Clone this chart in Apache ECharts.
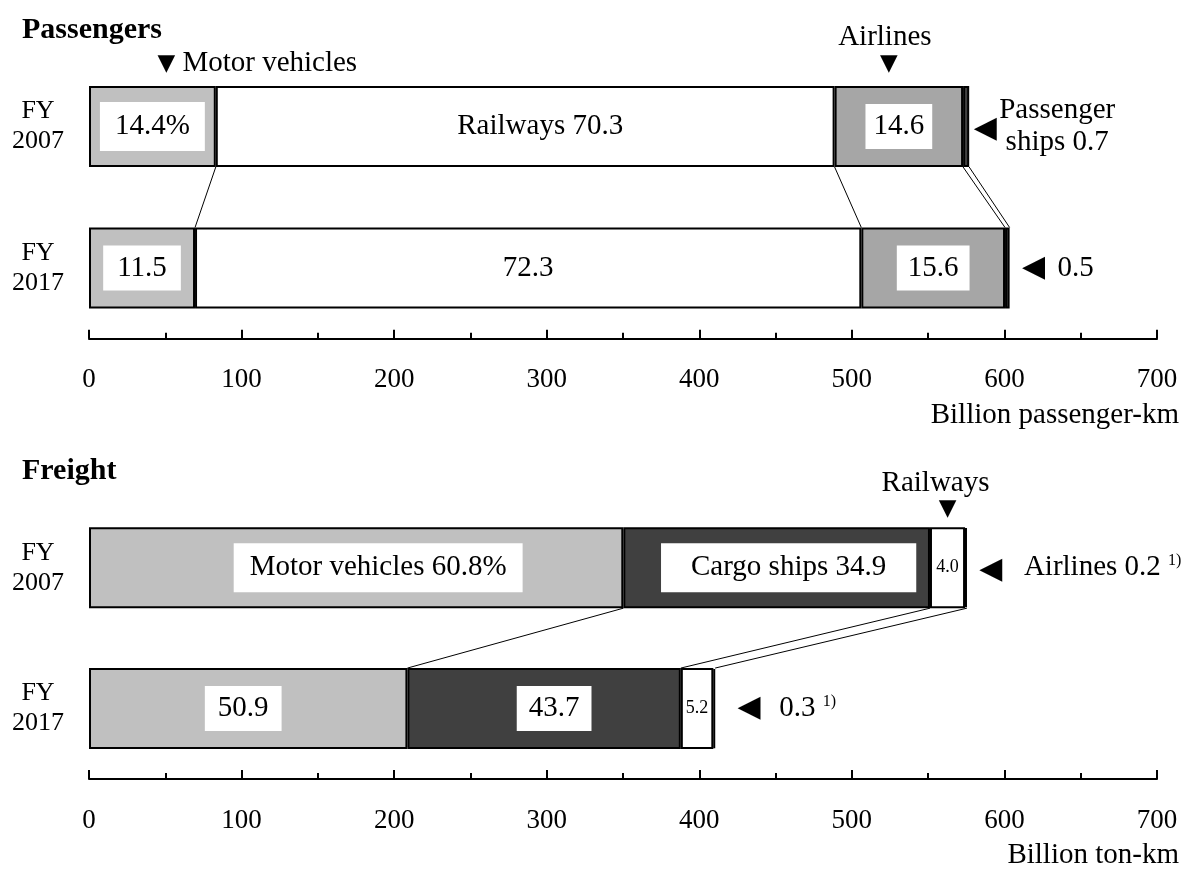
<!DOCTYPE html>
<html>
<head>
<meta charset="utf-8">
<script src="https://cdn.jsdelivr.net/npm/echarts@6/dist/echarts.min.js"></script>
<style>
  html, body { margin: 0; padding: 0; background: #fff; }
  #chart { width: 1189px; height: 870px; }
</style>
</head>
<body>
<div id="chart"></div>
<script>
const years = ['FY\n2007', 'FY\n2017']

// passengers, billion passenger-km
const paxMotor = [83.1, 69.5]
const paxRail = [405.6, 436.7]
const paxAir = [84.2, 94.2]
const paxShips = [4.0, 3.0]
const paxMotorText = ['14.4%', '11.5']
const paxRailText = ['Railways 70.3', '72.3']
const paxAirText = ['14.6', '15.6']
const paxShipsText = ['Passenger\nships 0.7', '0.5']

// freight, billion ton-km
const frMotor = [350.2, 208.7]
const frShips = [201.0, 179.2]
const frRail = [23.0, 21.3]
const frAir = [1.2, 1.2]
const frMotorText = ['Motor vehicles 60.8%', '50.9']
const frShipsText = ['Cargo ships 34.9', '43.7']
const frRailText = ['4.0', '5.2']
const frAirText = ['Airlines 0.2', '0.3']
const footnote = '1)'

const axisMin = 0
const axisMax = 700
const axisStep = 100

const SERIF = '"Liberation Serif", "Times New Roman", serif'
const SYM = '"DejaVu Sans", sans-serif'
const FS = 29
const BAR_W = 81

const chart = echarts.init(document.getElementById('chart'))

function boxLabel(texts, pads, shift) {
  return texts.map((t, i) => ({
    show: true,
    position: 'inside',
    formatter: t,
    color: '#000',
    fontFamily: SERIF,
    fontSize: FS,
    backgroundColor: pads ? '#fff' : 'transparent',
    padding: pads ? pads[i] : 0,
    offset: shift ? shift[i] : [0, 0]
  }))
}

function bar(name, gi, values, color, labels) {
  return {
    name: name,
    type: 'bar',
    stack: 'g' + gi,
    xAxisIndex: gi,
    yAxisIndex: gi,
    barWidth: BAR_W,
    itemStyle: { color: color, borderColor: '#000', borderWidth: 2 },
    emphasis: { disabled: true },
    data: values.map((v, i) => ({ value: v, label: labels ? labels[i] : { show: false } }))
  }
}

function cum(arrs, upto) {
  return [0, 1].map(i => arrs.slice(0, upto).reduce((s, a) => s + a[i], 0))
}

// connector lines between the two bars of a panel
function connectors(gi, arrs, cuts) {
  return {
    type: 'custom',
    xAxisIndex: gi,
    yAxisIndex: gi,
    silent: true,
    z: 1,
    encode: { x: [0, 1], y: 2 },
    data: cuts.map(k => { const c = cum(arrs, k); return [c[0], c[1], 0] }),
    renderItem: function (params, api) {
      const a = api.coord([api.value(0), 0])
      const b = api.coord([api.value(1), 1])
      return {
        type: 'line',
        shape: { x1: a[0], y1: a[1] + BAR_W / 2, x2: b[0], y2: b[1] - BAR_W / 2 },
        style: { stroke: '#000', lineWidth: 1 }
      }
    }
  }
}

function xAxis(gi, name) {
  return {
    type: 'value',
    gridIndex: gi,
    min: axisMin,
    max: axisMax,
    interval: axisStep,
    splitLine: { show: false },
    axisLine: { show: true, onZero: false, lineStyle: { color: '#000', width: 2 } },
    axisTick: { show: true, inside: true, length: 9, lineStyle: { color: '#000', width: 2 } },
    minorTick: { show: true, splitNumber: 2, length: 6, lineStyle: { color: '#000', width: 2 } },
    axisLabel: { color: '#000', fontFamily: SERIF, fontSize: 27, margin: 28 },
    name: name,
    nameLocation: 'end',
    nameGap: 22,
    nameTextStyle: { color: '#000', fontFamily: SERIF, fontSize: FS, align: 'right', verticalAlign: 'top', padding: [62, 0, 0, 0] }
  }
}

function yAxis(gi) {
  return {
    type: 'category',
    gridIndex: gi,
    inverse: true,
    data: years,
    axisLine: { show: false },
    axisTick: { show: false },
    axisLabel: { color: '#000', fontFamily: SERIF, fontSize: 26, lineHeight: 30, align: 'center', margin: 51 }
  }
}

const paxArrs = [paxMotor, paxRail, paxAir, paxShips]
const frArrs = [frMotor, frShips, frRail, frAir]

const option = {
  animation: false,
  backgroundColor: '#fff',
  title: [
    { text: 'Passengers', left: 22, top: 15, padding: 0, textStyle: { fontFamily: SERIF, fontSize: 30, fontWeight: 'bold', color: '#000' } },
    { text: 'Freight', left: 22, top: 456, padding: 0, textStyle: { fontFamily: SERIF, fontSize: 30, fontWeight: 'bold', color: '#000' } }
  ],
  grid: [
    { left: 89, right: 32, top: 55.75, height: 283 },
    { left: 89, right: 32, top: 497.25, height: 287 }
  ],
  xAxis: [xAxis(0, 'Billion passenger-km'), xAxis(1, 'Billion ton-km')],
  yAxis: [yAxis(0), yAxis(1)],
  series: [
    bar('Motor vehicles', 0, paxMotor, '#c0c0c0', boxLabel(paxMotorText, [[10, 15], [8, 14]])),
    bar('Railways', 0, paxRail, '#ffffff', boxLabel(paxRailText, null, [[15, 0], [0, 0]])),
    bar('Airlines', 0, paxAir, '#a6a6a6', boxLabel(paxAirText, [[8, 8], [8, 11]])),
    bar('Passenger ships', 0, paxShips, '#404040', null),
    connectors(0, paxArrs, [1, 2, 3, 4]),

    bar('Motor vehicles', 1, frMotor, '#c0c0c0', boxLabel(frMotorText, [[10, 16], [8, 13]], [[22, 0], [-5, 0]])),
    bar('Cargo ships', 1, frShips, '#404040', boxLabel(frShipsText, [[10, 30], [8, 12]], [[12, 0], [10, 0]])),
    bar('Railways', 1, frRail, '#ffffff', boxLabel(frRailText, null).map(l => Object.assign(l, { fontSize: 18 }))),
    bar('Airlines', 1, frAir, '#ffffff', null),
    connectors(1, frArrs, [1, 2, 4])
  ]
}

chart.setOption(option)

// annotations placed through the axes' own scales
function txt(x, y, text, opts) {
  return {
    type: 'text', x: x, y: y, silent: true,
    style: Object.assign({
      text: text, fill: '#000', fontFamily: SERIF, fontSize: FS,
      align: 'left', verticalAlign: 'middle', textAlign: 'left', textVerticalAlign: 'middle'
    }, opts || {})
  }
}
function sym(x, y, ch, size) {
  return txt(x, y, ch, { fontFamily: SYM, fontSize: size, align: 'center', textAlign: 'center' })
}
function supText(x, y, main) {
  return txt(x, y, '{t|' + main + '} {s|' + footnote + '}', {
    rich: {
      t: { fontFamily: SERIF, fontSize: FS, color: '#000' },
      s: { fontFamily: SERIF, fontSize: 16, color: '#000', verticalAlign: 'top', padding: [0, 0, 10, 0] }
    }
  })
}

function annotate() {
  const px = (gi, v, c) => chart.convertToPixel({ gridIndex: gi }, [v, c])
  const els = []

  // passengers
  const pTot = cum(paxArrs, 4)
  const pm = px(0, paxMotor[0] / 2, 0)
  const pTop = pm[1] - BAR_W / 2
  els.push(sym(pm[0] + 14, pTop - 22, '▼', 23))
  els.push(txt(pm[0] + 30, pTop - 23, 'Motor vehicles'))
  const pa = px(0, paxMotor[0] + paxRail[0] + paxAir[0] / 2, 0)
  els.push(txt(pa[0] - 14, pTop - 49, 'Airlines', { align: 'center', textAlign: 'center' }))
  els.push(sym(pa[0] - 10, pTop - 22, '▼', 23))
  const pe0 = px(0, pTot[0], 0)
  els.push(sym(pe0[0] + 16, pe0[1] + 3, '◀', 30))
  els.push(txt(pe0[0] + 88, pe0[1], paxShipsText[0], { align: 'center', textAlign: 'center', lineHeight: 32 }))
  const pe1 = px(0, pTot[1], 1)
  els.push(sym(pe1[0] + 24, pe1[1], '◀', 30))
  els.push(txt(pe1[0] + 48, pe1[1], paxShipsText[1]))

  // freight
  const fTot = cum(frArrs, 4)
  const fr = px(1, frMotor[0] + frShips[0] + frRail[0] / 2, 0)
  const fTop = fr[1] - BAR_W / 2
  els.push(txt(fr[0] - 12, fTop - 44, 'Railways', { align: 'center', textAlign: 'center' }))
  els.push(sym(fr[0], fTop - 18, '▼', 23))
  const fe0 = px(1, fTot[0], 0)
  els.push(sym(fe0[0] + 24, fe0[1] + 3, '◀', 30))
  els.push(supText(fe0[0] + 57, fe0[1], frAirText[0]))
  const fe1 = px(1, fTot[1], 1)
  els.push(sym(fe1[0] + 34, fe1[1], '◀', 30))
  els.push(supText(fe1[0] + 64, fe1[1], frAirText[1]))

  chart.setOption({ graphic: els })
}

annotate()
</script>
</body>
</html>
